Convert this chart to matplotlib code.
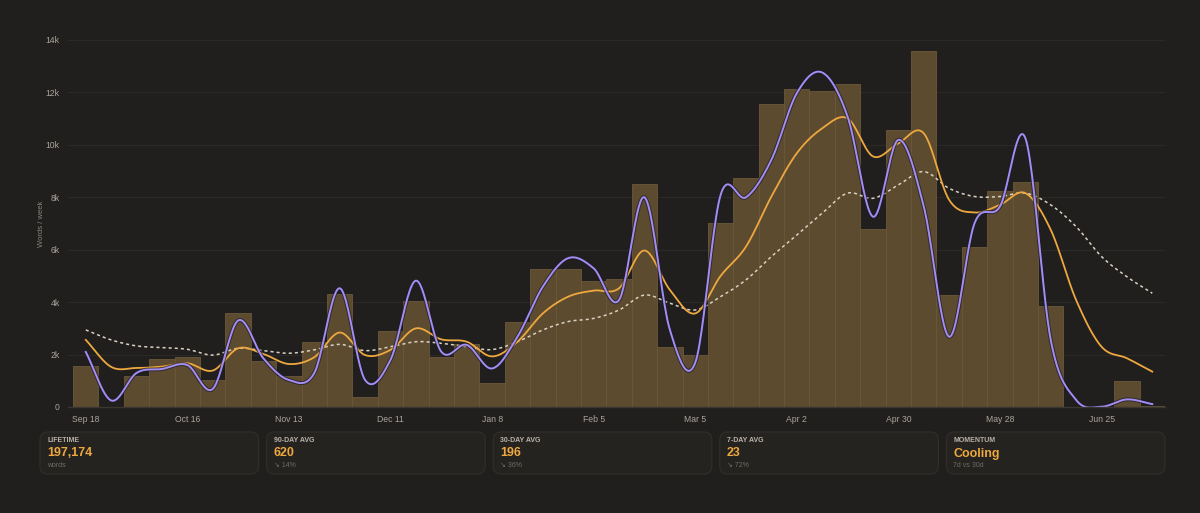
"""
Weekly word count chart with smoothed rolling averages and summary cards.
"""

import matplotlib
matplotlib.use("Agg")
import matplotlib.pyplot as plt
import matplotlib.patheffects as pe
from matplotlib.patches import FancyBboxPatch
import numpy as np

# --- data (one value per week, starting Sep 18) ---
weeks = np.arange(43)
week_words = [1550, 0, 1200, 1830, 1900, 1030, 3590, 1750, 1180, 2480,
              4310, 370, 2900, 4050, 1920, 2400, 930, 3260, 5250, 5250,
              4810, 4890, 8490, 2300, 2000, 7030, 8740, 11550, 12130, 12060,
              12330, 6790, 10550, 13580, 4270, 6120, 8240, 8590, 3870, 0,
              0, 990, 30]
avg_7 = [2100, 250, 1300, 1450, 1600, 690, 3300, 1850, 1030, 1300,
         4530, 1030, 1800, 4820, 2110, 2370, 1470, 2680, 4590, 5680,
         5290, 4080, 8000, 2950, 1690, 8090, 8000, 9430, 11970, 12760,
         11080, 7260, 10190, 7650, 2680, 7010, 7650, 10260, 2560, 270,
         10, 290, 110]
avg_30 = [2560, 1530, 1490, 1540, 1670, 1390, 2240, 2020, 1640, 1900,
          2840, 1980, 2180, 3000, 2580, 2490, 1930, 2490, 3570, 4210,
          4440, 4530, 5970, 4470, 3570, 5000, 6120, 8030, 9680, 10630,
          11010, 9560, 10060, 10440, 7900, 7420, 7710, 8160, 6760, 4080,
          2300, 1860, 1350]
avg_90 = [2940, 2560, 2330, 2270, 2200, 1980, 2240, 2150, 2050, 2180,
          2390, 2150, 2300, 2490, 2430, 2300, 2190, 2490, 2940, 3260,
          3380, 3700, 4270, 3960, 3700, 4210, 4850, 5740, 6560, 7390,
          8160, 7960, 8470, 8980, 8340, 8030, 8030, 8160, 7710, 6880,
          5740, 4970, 4340]

tick_weeks = [0, 4, 8, 12, 16, 20, 24, 28, 32, 36, 40]
tick_labels = ["Sep 18", "Oct 16", "Nov 13", "Dec 11", "Jan 8", "Feb 5",
               "Mar 5", "Apr 2", "Apr 30", "May 28", "Jun 25"]

card_titles = ["LIFETIME", "90-DAY AVG", "30-DAY AVG", "7-DAY AVG", "MOMENTUM"]
card_values = ["197,174", "620", "196", "23", "Cooling"]
card_subs = ["words", "\u2198 14%", "\u2198 36%", "\u2198 72%", "7d vs 30d"]

BG = "#211f1d"
BAR = "#5d4b30"
BAR_EDGE = "#6b583a"
PURPLE = "#a48ef2"
ORANGE = "#eea83f"
DOTTED = "#d9d1c2"
GRID = "#2c2a27"
TXT = "#aaa49c"

plt.rcParams["font.family"] = ["Liberation Sans", "DejaVu Sans"]


def smooth(x, y, n=24):
    """Catmull-Rom curve through the weekly points (for drawing only)."""
    x = np.asarray(x, float)
    y = np.asarray(y, float)
    px = np.concatenate([[2 * x[0] - x[1]], x, [2 * x[-1] - x[-2]]])
    py = np.concatenate([[2 * y[0] - y[1]], y, [2 * y[-1] - y[-2]]])
    xs, ys = [], []
    t = np.linspace(0, 1, n, endpoint=False)
    for i in range(1, len(px) - 2):
        for arr, out in ((px, xs), (py, ys)):
            p0, p1, p2, p3 = arr[i - 1], arr[i], arr[i + 1], arr[i + 2]
            out.append(0.5 * (2 * p1 + (-p0 + p2) * t
                              + (2 * p0 - 5 * p1 + 4 * p2 - p3) * t ** 2
                              + (-p0 + 3 * p1 - 3 * p2 + p3) * t ** 3))
    xs.append([x[-1]])
    ys.append([y[-1]])
    return np.concatenate(xs), np.concatenate(ys)


fig = plt.figure(figsize=(12, 5.13), dpi=100, facecolor=BG)
ax = fig.add_axes([68 / 1200, 1 - 407 / 513, (1165 - 68) / 1200, (407 - 40) / 513])
ax.set_facecolor(BG)

ax.bar(weeks, week_words, width=1.0, color=BAR, edgecolor=BAR_EDGE,
       linewidth=0.6, zorder=2)

sx, sy = smooth(weeks, avg_90)
ax.plot(sx, sy, color=DOTTED, linewidth=1.1, linestyle=(0, (2, 2)), zorder=3)
sx, sy = smooth(weeks, avg_30)
ax.plot(sx, sy, color=ORANGE, linewidth=1.3, zorder=4)
sx, sy = smooth(weeks, avg_7)
ax.plot(sx, sy, color=PURPLE, linewidth=1.4, zorder=5,
        path_effects=[pe.Stroke(linewidth=2.8, foreground="#1c1a2e", alpha=0.7),
                      pe.Normal()])

ax.set_xlim(-0.7, 42.5)
ax.set_ylim(0, 14000)
ax.set_yticks(np.arange(0, 14001, 2000))
ax.set_yticklabels(["0"] + [f"{v // 1000}k" for v in range(2000, 14001, 2000)])
ax.set_xticks(tick_weeks)
ax.set_xticklabels(tick_labels)
ax.tick_params(colors=TXT, labelsize=6.2, length=0, pad=6)
ax.grid(axis="y", color=GRID, linewidth=0.8, zorder=0)
ax.set_axisbelow(True)
for side in ("top", "right", "left"):
    ax.spines[side].set_visible(False)
ax.spines["bottom"].set_color("#3a3630")
ax.spines["bottom"].set_linewidth(1.0)
ax.spines["bottom"].set_zorder(6)
ax.set_ylabel("Words / week", color="#8a847c", fontsize=5.5)
ax.yaxis.set_label_coords((45 - 68) / 1097, 0.5)

# --- summary cards (pixel coordinates) ---
ov = fig.add_axes([0, 0, 1, 1])
ov.set_xlim(0, 1200)
ov.set_ylim(513, 0)
ov.axis("off")
ov.patch.set_alpha(0)

card_w = 218.6
gap = 8.0
for i, (title, value, sub) in enumerate(zip(card_titles, card_values, card_subs)):
    x0 = 40 + i * (card_w + gap)
    ov.add_patch(FancyBboxPatch((x0, 432), card_w, 42,
                                boxstyle="round,pad=0,rounding_size=8",
                                facecolor="#252320", edgecolor="#302d2a",
                                linewidth=0.9))
    ov.text(x0 + 7, 440, title, color="#b9b2a8", fontsize=5, fontweight="bold",
            va="center", ha="left")
    ov.text(x0 + 7, 453.5, value, color=ORANGE, fontsize=9, fontweight="bold",
            va="center", ha="left")
    ov.text(x0 + 7, 465.5, sub, color="#716b64", fontsize=5, va="center",
            ha="left")

fig.savefig("out.png", dpi=100, facecolor=BG)
